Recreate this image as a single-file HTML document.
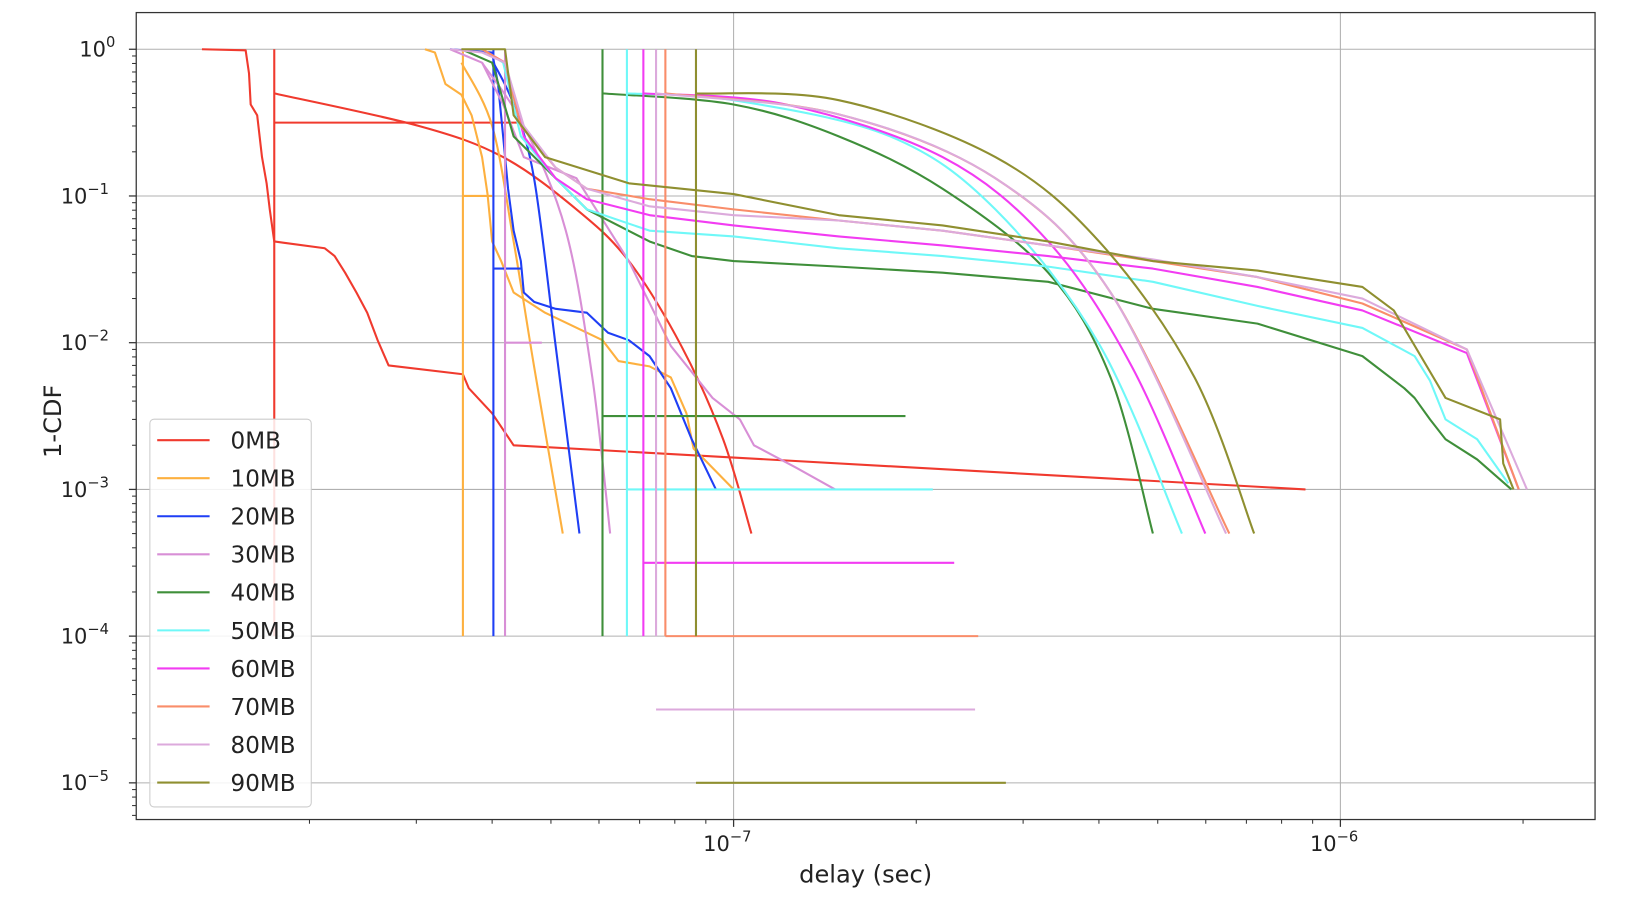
<!DOCTYPE html>
<html><head><meta charset="utf-8"><style>
html,body{margin:0;padding:0;background:#fff}
svg{display:block;font-family:"DejaVu Sans","Liberation Sans",sans-serif}
</style></head><body>
<svg id="chart" width="1640" height="904" viewBox="0 0 1640 904" xmlns="http://www.w3.org/2000/svg">
<g transform="scale(1.048)">
<g id="grid"></g>
<g id="series"></g>
<rect x="130" y="12" width="1392" height="770" fill="none" stroke="#333" stroke-width="1.2"/>
<g id="axes"></g>
<text x="826" y="842" font-size="23" text-anchor="middle" fill="#222">delay (sec)</text>
<text x="58" y="402" font-size="23" text-anchor="middle" fill="#222" transform="rotate(-90 58 402)">1-CDF</text>
<g id="legend"></g>
</g>
</svg>
<script>
// delays in ns, probabilities as 1-CDF
const names=['0MB','10MB','20MB','30MB','40MB','50MB','60MB','70MB','80MB','90MB'];
const colors=['#f03a2e','#fdb03f','#1f3ff5','#d88fd6','#3f8f3a','#6ff8f8','#f23cf2','#f98d6a','#dcaadc','#8f8f30'];
const xTickVals=[1e-7,1e-6];
const xTickLabels=['−7','−6'];
const yTickVals=[1,1e-1,1e-2,1e-3,1e-4,1e-5];
const yTickLabels=['0','−1','−2','−3','−4','−5'];

const s0StepX=[13.3,15.7,15.9,16.0,16.4,16.7,17.0,17.2,17.5,18.1,21.2,22.0,22.9,23.9,24.9,25.9,27.0,35.8,36.6,40.0,43.4,876];
const s0StepY=[1,0.984,0.685,0.42,0.355,0.184,0.122,0.081,0.049,0.048,0.044,0.039,0.03,0.022,0.016,0.0104,0.007,0.0061,0.0049,0.0033,0.002,0.001];
const s0CurveX=[17.5,30.3,41.7,55.1,67.2,82.0,96.1,107];
const s0CurveY=[0.5,0.3,0.184,0.081,0.036,0.0095,0.0022,0.0005];
const s0VertX=17.5, s0VertMin=1e-4, s0HorY=0.316, s0HorEnd=44.6;

const s1StepX=[31.0,32.2,33.5,35.6,37.0,38.5,39.3,40.0,41.4,43.4,48.9,60.8,64.6,72.7,78.8,83.6,85.9,100];
const s1StepY=[1,0.95,0.58,0.49,0.355,0.184,0.103,0.049,0.036,0.022,0.016,0.0104,0.0075,0.0069,0.0058,0.0033,0.0019,0.001];
const s1CurveX=[35.6,40.0,43.4,46.9,52.3];
const s1CurveY=[0.81,0.3,0.049,0.0069,0.0005];
const s1VertX=35.8, s1VertMin=1e-4, s1HorY=0.1, s1HorEnd=40.0;

const s2StepX=[34.1,40.0,40.9,41.7,42.5,43.4,44.6,45.1,46.9,50.9,57.3,62.1,67.2,72.7,78.8,85.3,93.5];
const s2StepY=[1,0.95,0.58,0.255,0.112,0.058,0.036,0.022,0.019,0.017,0.016,0.0117,0.0104,0.0081,0.0049,0.0022,0.001];
const s2CurveX=[40.2,43.4,46.9,50.9,55.7];
const s2CurveY=[0.81,0.42,0.132,0.0095,0.0005];
const s2VertX=40.2, s2VertMin=1e-4, s2HorY=0.032, s2HorEnd=44.6;

const s3StepX=[34.1,38.5,41.7,45.1,55.1,67.2,78.8,92.3,102.4,108,127,147];
const s3StepY=[1,0.81,0.42,0.184,0.132,0.036,0.0095,0.0042,0.003,0.002,0.0014,0.001];
const s3CurveX=[38.5,45.1,52.9,58.5,62.6];
const s3CurveY=[0.81,0.3,0.058,0.0058,0.0005];
const s3VertX=42.0, s3VertMin=1e-4, s3HorY=0.01, s3HorEnd=48.3;

const s4StepX=[35.6,40.0,43.4,48.9,57.3,72.7,85.3,100,149,221,330,491,730,1087,1274,1325,1405,1490,1680,1914];
const s4StepY=[1,0.81,0.255,0.156,0.081,0.049,0.039,0.036,0.033,0.03,0.026,0.017,0.0135,0.0081,0.0049,0.0042,0.003,0.0022,0.0016,0.001];
const s4CurveX=[60.8,100,149,221,330,418,491];
const s4CurveY=[0.5,0.42,0.255,0.112,0.03,0.0058,0.0005];
const s4VertX=60.8, s4VertMin=1e-4, s4HorY=0.00316, s4HorEnd=192;

const s5StepX=[38.5,41.7,44.6,50.9,57.3,72.7,100,149,221,330,491,730,1087,1325,1405,1490,1680,1891];
const s5StepY=[1,0.81,0.255,0.132,0.081,0.058,0.053,0.044,0.039,0.033,0.026,0.0178,0.0126,0.0081,0.0055,0.003,0.0022,0.0011];
const s5CurveX=[66.7,100,181,270,402,548];
const s5CurveY=[0.5,0.45,0.255,0.081,0.0095,0.0005];
const s5VertX=66.7, s5VertMin=1e-4, s5HorY=0.001, s5HorEnd=213;

const s6StepX=[38.5,42.0,45.1,50.9,57.3,72.7,100,149,221,330,491,730,1087,1616,1968];
const s6StepY=[1,0.81,0.255,0.132,0.095,0.074,0.063,0.053,0.046,0.039,0.032,0.024,0.0166,0.0085,0.001];
const s6CurveX=[71.0,122,221,330,453,599];
const s6CurveY=[0.5,0.42,0.184,0.049,0.0069,0.0005];
const s6VertX=71.0, s6VertMin=1e-4, s6HorY=0.000316, s6HorEnd=231;

const s7StepX=[38.5,42.0,44.6,50.9,57.3,72.7,100,149,221,330,491,730,1087,1616,1968];
const s7StepY=[1,0.81,0.3,0.156,0.112,0.095,0.081,0.068,0.058,0.046,0.036,0.028,0.0185,0.009,0.001];
const s7CurveX=[77.2,149,270,418,656];
const s7CurveY=[0.5,0.36,0.132,0.022,0.0005];
const s7VertX=77.2, s7VertMin=1e-4, s7HorY=0.0001, s7HorEnd=253;

const s8StepX=[34.1,38.5,42.0,45.1,50.9,57.3,72.7,100,149,221,330,491,730,1087,1616,2030];
const s8StepY=[1,0.95,0.81,0.3,0.156,0.112,0.085,0.074,0.068,0.058,0.046,0.037,0.028,0.02,0.009,0.001];
const s8CurveX=[74.5,149,270,418,648];
const s8CurveY=[0.5,0.36,0.132,0.022,0.0005];
const s8VertX=74.5, s8VertMin=1e-4, s8HorY=0.0000316, s8HorEnd=250;

const s9StepX=[35.6,42.0,43.4,48.9,67.2,100,149,221,330,491,730,1087,1225,1490,1833,1855,1929];
const s9StepY=[1,1,0.355,0.184,0.122,0.103,0.074,0.063,0.049,0.036,0.031,0.024,0.0166,0.0042,0.003,0.0015,0.001];
const s9CurveX=[86.7,149,270,402,575,721];
const s9CurveY=[0.5,0.45,0.184,0.048,0.0058,0.0005];
const s9VertX=86.7, s9VertMin=1e-4, s9HorY=0.00001, s9HorEnd=281;

const seriesData=[
 [s0StepX,s0StepY,s0CurveX,s0CurveY,s0VertX,s0VertMin,s0HorY,s0HorEnd],
 [s1StepX,s1StepY,s1CurveX,s1CurveY,s1VertX,s1VertMin,s1HorY,s1HorEnd],
 [s2StepX,s2StepY,s2CurveX,s2CurveY,s2VertX,s2VertMin,s2HorY,s2HorEnd],
 [s3StepX,s3StepY,s3CurveX,s3CurveY,s3VertX,s3VertMin,s3HorY,s3HorEnd],
 [s4StepX,s4StepY,s4CurveX,s4CurveY,s4VertX,s4VertMin,s4HorY,s4HorEnd],
 [s5StepX,s5StepY,s5CurveX,s5CurveY,s5VertX,s5VertMin,s5HorY,s5HorEnd],
 [s6StepX,s6StepY,s6CurveX,s6CurveY,s6VertX,s6VertMin,s6HorY,s6HorEnd],
 [s7StepX,s7StepY,s7CurveX,s7CurveY,s7VertX,s7VertMin,s7HorY,s7HorEnd],
 [s8StepX,s8StepY,s8CurveX,s8CurveY,s8VertX,s8VertMin,s8HorY,s8HorEnd],
 [s9StepX,s9StepY,s9CurveX,s9CurveY,s9VertX,s9VertMin,s9HorY,s9HorEnd]
];

const NS='http://www.w3.org/2000/svg';
const L=130,R=1522,T=12,B=782;
function xs(sec){return 700+(Math.log10(sec)+7)*579;}
function xn(ns){return xs(ns*1e-9);}
function ys(p){return 47-Math.log10(p)*140;}
function mk(tag,attrs,parent){const e=document.createElementNS(NS,tag);for(const k in attrs)e.setAttribute(k,attrs[k]);parent.appendChild(e);return e;}

const grid=document.getElementById('grid'),axes=document.getElementById('axes');
xTickVals.forEach((v,i)=>{
  const x=xs(v);
  const g=mk('line',{x1:x,x2:x,y1:T,y2:B,stroke:'#b0b0b0','stroke-width':1},grid);
  
  
  const t=mk('line',{x1:x,x2:x,y1:B,y2:B+7,stroke:'#333','stroke-width':1.2},axes);
  
  
  const tx=mk('text',{x:x-6,y:B+30,'font-size':20,'text-anchor':'middle',fill:'#222'},axes);
  
  
  tx.innerHTML='10<tspan dy="-9" font-size="14">'+xTickLabels[i]+'</tspan>';
});
for(let e=-8;e<=-6;e++)for(let m=2;m<=9;m++){
  const x=xs(m*Math.pow(10,e)); if(x<L||x>R)continue;
  const t=mk('line',{x1:x,x2:x,y1:B,y2:B+4,stroke:'#333','stroke-width':1},axes);
  
  
}
yTickVals.forEach((v,i)=>{
  const y=ys(v);
  const g=mk('line',{x1:L,x2:R,y1:y,y2:y,stroke:'#b0b0b0','stroke-width':1},grid);
  
  
  const t=mk('line',{x1:L-7,x2:L,y1:y,y2:y,stroke:'#333','stroke-width':1.2},axes);
  
  
  const tx=mk('text',{x:104,y:y+7,'font-size':20,'text-anchor':'end',fill:'#222'},axes);
  
  
  tx.innerHTML='10<tspan dy="-9" font-size="14">'+yTickLabels[i]+'</tspan>';
  if(i===0)tx.setAttribute('x',110);
});
for(let e=-6;e<=0;e++)for(let m=2;m<=9;m++){
  const y=ys(m*Math.pow(10,e)); if(y<T||y>B)continue;
  const t=mk('line',{x1:L-4,x2:L,y1:y,y2:y,stroke:'#333','stroke-width':1},axes);
  
  
}

const sg=document.getElementById('series');
function poly(xa,ya,color,name){
  const pts=xa.map((x,i)=>xn(x).toFixed(1)+','+ys(ya[i]).toFixed(1)).join(' ');
  const p=mk('polyline',{points:pts,fill:'none',stroke:color,'stroke-width':2,'stroke-linejoin':'round'},sg);
  
  
}
function smooth(xa,ya,color,name){
  const P=xa.map((x,i)=>[xn(x),ys(ya[i])]);
  let d='M'+P[0][0].toFixed(1)+','+P[0][1].toFixed(1);
  for(let i=0;i<P.length-1;i++){
    const p0=P[Math.max(0,i-1)],p1=P[i],p2=P[i+1],p3=P[Math.min(P.length-1,i+2)];
    const c1=[p1[0]+(p2[0]-p0[0])/6,p1[1]+(p2[1]-p0[1])/6];
    const c2=[p2[0]-(p3[0]-p1[0])/6,p2[1]-(p3[1]-p1[1])/6];
    d+=' C'+c1.map(v=>v.toFixed(1)).join(',')+' '+c2.map(v=>v.toFixed(1)).join(',')+' '+p2[0].toFixed(1)+','+p2[1].toFixed(1);
  }
  const p=mk('path',{d:d,fill:'none',stroke:color,'stroke-width':2},sg);
  
  
}
seriesData.forEach((s,i)=>{
  const c=colors[i],n=names[i].toLowerCase();
  poly([s[4],s[4]],[1,s[5]],c,'vline-'+n);
  poly([s[4],s[7]],[s[6],s[6]],c,'hline-'+n);
  smooth(s[2],s[3],c,'fit-curve-'+n);
  poly(s[0],s[1],c,'empirical-ccdf-'+n);
});

const lg=document.getElementById('legend');
const box=mk('rect',{x:143,y:400,width:154,height:370,rx:4,fill:'#fff','fill-opacity':0.85,stroke:'#ccc','stroke-width':1},lg);


names.forEach((nm,i)=>{
  const y=420+i*36.3;
  const l=mk('line',{x1:150,x2:200,y1:y,y2:y,stroke:colors[i],'stroke-width':2},lg);
  
  
  const t=mk('text',{x:220,y:y+8,'font-size':22,fill:'#222'},lg);
  
  
  t.textContent=nm;
});
</script>
</body></html>
